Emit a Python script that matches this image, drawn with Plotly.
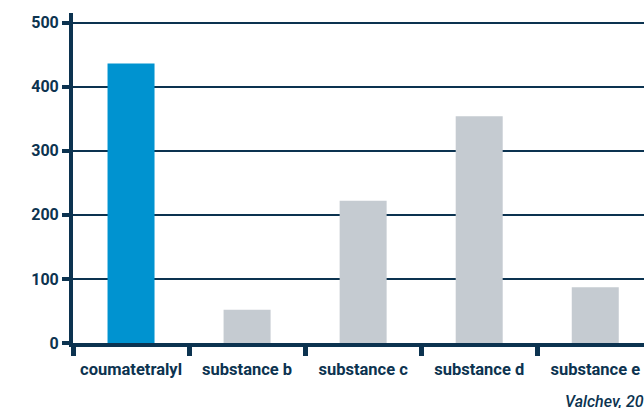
import plotly.graph_objects as go

categories = ["coumatetralyl", "substance b", "substance c", "substance d", "substance e"]
values = [436, 52, 222, 354, 87]
bar_colors = ["#0093d0", "#c5cbd1", "#c5cbd1", "#c5cbd1", "#c5cbd1"]
y_ticks = [0, 100, 200, 300, 400, 500]
source = "Valchev, 2006"

NAVY = "#0c3350"
FONT = "Roboto, Arial, sans-serif"

fig = go.Figure(go.Bar(
    x=categories, y=values, marker=dict(color=bar_colors, line=dict(width=0)),
    width=0.405,
))

fig.update_layout(
    width=644, height=408,
    margin=dict(l=73, r=0, t=13, b=65),
    plot_bgcolor="white", paper_bgcolor="white",
    showlegend=False,
    font=dict(family=FONT, color=NAVY),
    xaxis=dict(
        range=[-0.5, 4.42], showline=True, linecolor=NAVY, linewidth=4,
        ticks="outside", tickson="boundaries", ticklen=9, tickwidth=5, tickcolor=NAVY,
        tickfont=dict(family=FONT, size=16.5, color=NAVY, weight="bold"),
        ticklabelstandoff=8,
        showgrid=False, zeroline=False,
    ),
    yaxis=dict(
        range=[0, 515], tickvals=y_ticks, showline=True, linecolor=NAVY, linewidth=4,
        ticks="outside", ticklen=7, tickwidth=4, tickcolor=NAVY,
        tickfont=dict(family=FONT, size=16, color=NAVY, weight="bold"),
        showgrid=True, gridcolor=NAVY, gridwidth=2, zeroline=False,
    ),
    annotations=[dict(
        text=source, xref="paper", yref="paper", x=(563 - 73) / 571, y=-0.178,
        xanchor="left", yanchor="middle", showarrow=False,
        font=dict(family=FONT, size=16, color=NAVY, style="italic", weight=500),
    )],
)

fig.write_html(
    "out.html",
    config={"displayModeBar": False},
    post_script="document.body.style.margin='0';document.body.style.overflow='hidden';",
)
